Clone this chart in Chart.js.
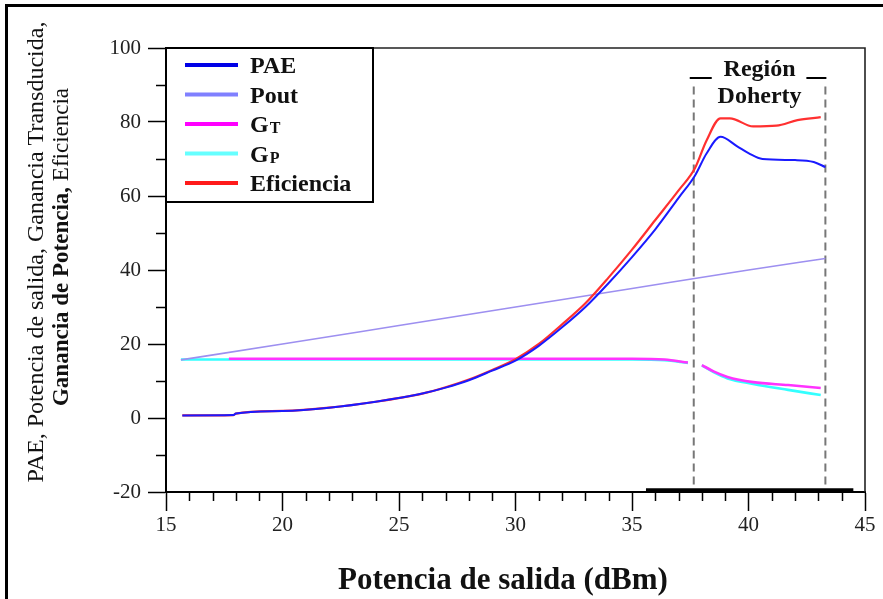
<!DOCTYPE html>
<html lang="es">
<head>
<meta charset="utf-8">
<title>PAE, Pout, ganancias y eficiencia vs potencia de salida</title>
<script src="https://cdn.jsdelivr.net/npm/chart.js@4.4.1/dist/chart.umd.min.js"></script>
<style>
  html, body { margin: 0; padding: 0; background: #fff; }
  #wrap { position: relative; width: 883px; height: 599px; }
</style>
</head>
<body>
<div id="wrap"><canvas id="grafica"></canvas></div>
<script>
"use strict";

/* ─── DATOS ─── */
const paeX = [15.7, 17.9, 18.0, 20, 22, 24, 26, 27, 28, 29, 30, 31, 32, 33, 34, 35, 36, 37, 37.7, 38.2, 38.8, 39.5, 40, 40.6, 42, 42.8, 43.3];
const paeY = [0.7, 0.8, 1.2, 1.9, 2.8, 4.4, 6.6, 8.2, 10.2, 12.8, 15.5, 19.5, 24.5, 30, 36.5, 43.5, 51, 59.5, 65.5, 71.5, 76, 73.5, 71.6, 70, 69.7, 69.2, 67.8];

const effX = [15.7, 17.9, 18.0, 20, 22, 24, 26, 27, 28, 29, 30, 31, 32, 33, 34, 35, 36, 37, 37.7, 38.2, 38.8, 39.2, 40.2, 41.2, 42.1, 43.1];
const effY = [0.7, 0.8, 1.2, 1.9, 2.8, 4.4, 6.6, 8.3, 10.4, 13, 15.9, 20, 25.3, 31, 38, 45.5, 53.5, 61.5, 67.5, 75, 81, 81, 78.8, 79, 80.5, 81.3];

const poutX = [15.64, 20, 25, 30, 35, 40, 43.3];
const poutY = [15.7, 20, 25, 30, 35, 40, 43.1];

const gtX = [17.7, 20, 25, 30, 35, 36.4, 37.4, 37.65, 38.0, 38.5, 39.1, 40.2, 41.7, 43.1];
const gtY = [16, 16, 16, 16, 16, 15.8, 15, null, 14.3, 12.6, 11.1, 9.7, 8.9, 8.1];

const gpX = [15.64, 20, 25, 30, 35, 36.4, 37.4, 37.65, 38.0, 38.5, 39.1, 40.2, 41.7, 43.1];
const gpY = [15.8, 15.8, 15.8, 15.8, 15.8, 15.6, 14.9, null, 14.2, 12.4, 10.7, 9.2, 7.6, 6.2];

// límites de la región Doherty (líneas discontinuas)
const dohertyX = [37.65, 43.3];
const dohertyY = [-18, 90];

// trazo grueso sobre el eje inferior
const trazoX = [35.6, 44.5];
const trazoY = [-19.4, -19.4];

const xTicks = [15, 20, 25, 30, 35, 40, 45];
const yTicks = [-20, 0, 20, 40, 60, 80, 100];

const leyenda = [
  { label: "PAE", sub: "", color: "#0000e6" },
  { label: "Pout", sub: "", color: "#8080ff" },
  { label: "G", sub: "T", color: "#ff00ff" },
  { label: "G", sub: "P", color: "#66ffff" },
  { label: "Eficiencia", sub: "", color: "#ff1a1a" },
];

/* ─── COLORES / FUENTES ─── */
const C = {
  pae: "#1a1aff", pout: "#9d8ff0", gt: "#ff33ff", gp: "#33ffff", eff: "#ff3030",
  dash: "#777777", text: "#111111",
};
const SERIF = "'Liberation Serif', 'Times New Roman', serif";

Chart.defaults.font.family = SERIF;
Chart.defaults.color = C.text;

const pts = (xs, ys) => xs.map((x, i) => ({ x, y: ys[i] }));

function serie(label, xs, ys, color, width, order) {
  return {
    label, data: pts(xs, ys), borderColor: color, backgroundColor: color,
    borderWidth: width, pointRadius: 0, fill: false, spanGaps: false,
    cubicInterpolationMode: "monotone", order,
  };
}

const datasets = [
  serie("PAE", paeX, paeY, C.pae, 2, 1),
  serie("Eficiencia", effX, effY, C.eff, 2.2, 2),
  serie("Pout", poutX, poutY, C.pout, 1.6, 3),
  serie("GT", gtX, gtY, C.gt, 2.6, 4),
  serie("GP", gpX, gpY, C.gp, 2.6, 5),
];
dohertyX.forEach((xv, i) => {
  datasets.push({
    label: "doherty" + i, data: pts([xv, xv], dohertyY), borderColor: C.dash,
    borderWidth: 2, borderDash: [8, 5], pointRadius: 0, order: 6,
  });
});
datasets.push({
  label: "trazo", data: pts(trazoX, trazoY), borderColor: "#000",
  borderWidth: 3, pointRadius: 0, order: 0,
});

/* ─── PLUGIN: marco, ticks menores, títulos, leyenda, etiqueta ─── */
const decoracion = {
  id: "decoracion",
  beforeDraw(chart) {
    const ctx = chart.ctx;
    ctx.save();
    ctx.fillStyle = "#fff";
    ctx.fillRect(0, 0, chart.width, chart.height);
    ctx.fillStyle = "#000";
    ctx.fillRect(5, 4, chart.width - 5, 3);
    ctx.fillRect(5, 4, 3, chart.height - 4);
    ctx.restore();
  },
  afterDraw(chart) {
    const ctx = chart.ctx;
    const a = chart.chartArea;
    const xs = chart.scales.x, ys = chart.scales.y;
    ctx.save();

    // borde superior y derecho del área
    ctx.strokeStyle = "#222";
    ctx.lineWidth = 1.6;
    ctx.beginPath();
    ctx.moveTo(a.left, a.top); ctx.lineTo(a.right, a.top); ctx.lineTo(a.right, a.bottom);
    ctx.stroke();

    // ticks menores
    ctx.strokeStyle = "#000";
    ctx.lineWidth = 1.5;
    ctx.beginPath();
    for (let v = -10; v < 100; v += 20) {
      const py = Math.round(ys.getPixelForValue(v)) + 0.5;
      ctx.moveTo(a.left - 10, py); ctx.lineTo(a.left, py);
    }
    for (let v = 16; v < 45; v++) {
      if (v % 5 === 0) continue;
      const px = Math.round(xs.getPixelForValue(v)) + 0.5;
      ctx.moveTo(px, a.bottom); ctx.lineTo(px, a.bottom + 9);
    }
    ctx.stroke();

    // título eje X
    ctx.fillStyle = C.text;
    ctx.font = "bold 31px " + SERIF;
    ctx.textAlign = "center";
    ctx.textBaseline = "alphabetic";
    ctx.fillText("Potencia de salida (dBm)", 503, 589);

    // título eje Y (dos líneas)
    ctx.save();
    ctx.translate(37, 252);
    ctx.rotate(-Math.PI / 2);
    ctx.font = "24px " + SERIF;
    ctx.textBaseline = "middle";
    ctx.fillText("PAE, Potencia de salida, Ganancia Transducida,", 0, 0);
    ctx.restore();

    ctx.save();
    ctx.translate(62, 247);
    ctx.rotate(-Math.PI / 2);
    ctx.textBaseline = "middle";
    ctx.textAlign = "left";
    const parteB = "Ganancia de Potencia,", parteR = " Eficiencia";
    ctx.font = "bold 23px " + SERIF;
    const wB = ctx.measureText(parteB).width;
    ctx.font = "23px " + SERIF;
    const wR = ctx.measureText(parteR).width;
    const x0 = -(wB + wR) / 2;
    ctx.font = "bold 23px " + SERIF;
    ctx.fillText(parteB, x0, 0);
    ctx.font = "23px " + SERIF;
    ctx.fillText(parteR, x0 + wB, 0);
    ctx.restore();

    // leyenda
    const lx = a.left, ly = a.top, lw = 207, lh = 154;
    ctx.fillStyle = "#fff";
    ctx.fillRect(lx, ly, lw, lh);
    ctx.strokeStyle = "#000";
    ctx.lineWidth = 2;
    ctx.strokeRect(lx, ly, lw, lh);
    leyenda.forEach((it, i) => {
      const y = ly + 17 + i * 29.5;
      ctx.strokeStyle = it.color;
      ctx.lineWidth = 4;
      ctx.beginPath();
      ctx.moveTo(lx + 19, y); ctx.lineTo(lx + 72, y);
      ctx.stroke();
      ctx.fillStyle = C.text;
      ctx.textAlign = "left";
      ctx.textBaseline = "alphabetic";
      ctx.font = "bold 24px " + SERIF;
      ctx.fillText(it.label, lx + 84, y + 8);
      if (it.sub) {
        const w = ctx.measureText(it.label).width;
        ctx.font = "bold 16px " + SERIF;
        ctx.fillText(it.sub, lx + 84 + w + 1, y + 9);
      }
    });

    // etiqueta región Doherty
    const xl = xs.getPixelForValue(dohertyX[0]);
    const xr = xs.getPixelForValue(dohertyX[1]);
    const xc = (xl + xr) / 2;
    ctx.fillStyle = C.text;
    ctx.textAlign = "center";
    ctx.font = "bold 24px " + SERIF;
    ctx.fillText("Región", xc, 76);
    ctx.fillText("Doherty", xc, 103);
    ctx.strokeStyle = "#000";
    ctx.lineWidth = 2;
    ctx.beginPath();
    ctx.moveTo(xl - 4, 78); ctx.lineTo(xl + 18, 78);
    ctx.moveTo(xr - 19, 78); ctx.lineTo(xr + 1, 78);
    ctx.stroke();

    ctx.restore();
  },
};

/* ─── GRÁFICA ─── */
new Chart(document.getElementById("grafica"), {
  type: "line",
  data: { datasets },
  options: {
    responsive: true, maintainAspectRatio: false, animation: false,
    layout: { padding: { top: 48, right: 18, left: 0, bottom: 0 } },
    plugins: { legend: { display: false }, tooltip: { enabled: false }, title: { display: false } },
    scales: {
      x: {
        type: "linear", min: 15, max: 45,
        afterBuildTicks: s => { s.ticks = xTicks.map(v => ({ value: v })); },
        afterFit: s => { s.height = 107; },
        ticks: { font: { size: 21 }, color: "#222", padding: 2, maxRotation: 0 },
        grid: { drawOnChartArea: false, tickLength: 19, tickWidth: 1.5, tickColor: "#000" },
        border: { color: "#000", width: 2 },
      },
      y: {
        type: "linear", min: -20, max: 100,
        afterBuildTicks: s => { s.ticks = yTicks.map(v => ({ value: v })); },
        afterFit: s => { s.width = 166; },
        ticks: { font: { size: 21 }, color: "#222", padding: 7 },
        grid: { drawOnChartArea: false, tickLength: 18, tickWidth: 1.5, tickColor: "#000" },
        border: { color: "#000", width: 2 },
      },
    },
  },
  plugins: [decoracion],
});
</script>
</body>
</html>
